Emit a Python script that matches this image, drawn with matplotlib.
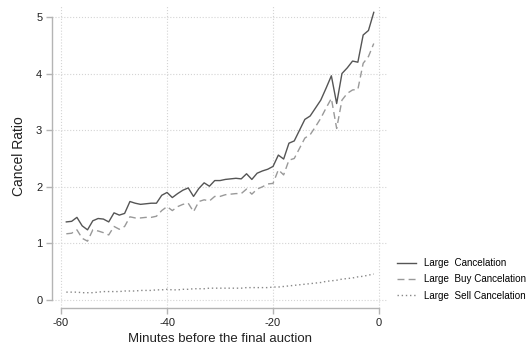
import numpy as np
import matplotlib
matplotlib.use("Agg")
import matplotlib.pyplot as plt

plt.rcParams['font.family'] = ['Liberation Sans', 'DejaVu Sans']
plt.rcParams['axes.unicode_minus'] = False

minutes = list(range(-59, 0))

large_cancel = [1.38, 1.39, 1.46, 1.31, 1.24, 1.40, 1.44, 1.43, 1.38, 1.54,
                1.50, 1.53, 1.74, 1.71, 1.69, 1.70, 1.71, 1.71, 1.85,
                1.90, 1.81, 1.88, 1.94, 1.98, 1.83, 1.97, 2.07, 2.01, 2.11,
                2.11, 2.13, 2.14, 2.15, 2.14, 2.23, 2.13, 2.24, 2.28, 2.31,
                2.36, 2.56, 2.49, 2.77, 2.81, 3.00, 3.19, 3.25, 3.39, 3.53,
                3.74, 3.96, 3.47, 4.00, 4.10, 4.22, 4.20, 4.68, 4.76, 5.08]

buy_cancel = [1.17, 1.18, 1.24, 1.09, 1.04, 1.24, 1.22, 1.19, 1.15, 1.30,
              1.25, 1.30, 1.47, 1.45, 1.45, 1.46, 1.46, 1.48, 1.58,
              1.65, 1.58, 1.65, 1.69, 1.71, 1.56, 1.74, 1.77, 1.75, 1.83,
              1.83, 1.86, 1.87, 1.88, 1.88, 1.96, 1.87, 1.96, 2.00, 2.05,
              2.06, 2.30, 2.21, 2.47, 2.50, 2.68, 2.86, 2.92, 3.06, 3.21,
              3.39, 3.56, 3.03, 3.53, 3.65, 3.71, 3.72, 4.18, 4.30, 4.53]

sell_cancel = [0.14, 0.14, 0.14, 0.13, 0.13, 0.13, 0.14, 0.15, 0.15, 0.15,
               0.15, 0.16, 0.16, 0.16, 0.17, 0.17, 0.17, 0.18, 0.18,
               0.19, 0.18, 0.18, 0.19, 0.19, 0.20, 0.20, 0.20, 0.21, 0.21,
               0.21, 0.21, 0.21, 0.21, 0.21, 0.22, 0.22, 0.22, 0.22, 0.22,
               0.23, 0.23, 0.24, 0.25, 0.26, 0.27, 0.28, 0.29, 0.30, 0.31,
               0.33, 0.34, 0.35, 0.37, 0.38, 0.39, 0.41, 0.42, 0.44, 0.46]

labels = ['Large  Cancelation', 'Large  Buy Cancelation', 'Large  Sell Cancelation']
xticks = [-60, -40, -20, 0]
yticks = [0, 1, 2, 3, 4, 5]

fig = plt.figure(figsize=(5.29, 3.49), dpi=100)
ax = fig.add_axes([0.0983, 0.1175, 0.6333, 0.8682])

ax.plot(minutes, large_cancel, color='#555555', lw=1.0, ls='-', label=labels[0])
ax.plot(minutes, buy_cancel, color='#999999', lw=1.0, ls=(0, (5, 3)), label=labels[1])
ax.plot(minutes, sell_cancel, color='#888888', lw=1.0, ls=(0, (1, 2)), label=labels[2])

ax.set_xlim(-61.7, 1.5)
ax.set_ylim(-0.14, 5.21)
ax.set_xticks(xticks)
ax.set_yticks(yticks)
ax.set_xticklabels([str(t) for t in xticks])
ax.grid(True, ls=':', color='#d4d4d4', lw=0.8)

for s in ['top', 'right']:
    ax.spines[s].set_visible(False)
for s in ['left', 'bottom']:
    ax.spines[s].set_color('#b4b4b4')
    ax.spines[s].set_linewidth(1.0)
ax.spines['left'].set_bounds(0, 5)
ax.spines['bottom'].set_bounds(-60, 0)
ax.tick_params(axis='both', colors='#b4b4b4', labelcolor='#222222',
               labelsize=8, length=4, width=1.0, direction='out', pad=3)

ax.set_ylabel('Cancel Ratio', fontsize=10, color='#222222', labelpad=7)
ax.set_xlabel('Minutes before the final auction', fontsize=9.5, color='#222222', labelpad=4)

ax.legend(loc='upper left', bbox_to_anchor=(1.018, 0.178), frameon=False,
          fontsize=7.1, handlelength=1.9, handletextpad=0.8, labelspacing=0.65,
          borderaxespad=0)

fig.savefig('out.png', dpi=100)
